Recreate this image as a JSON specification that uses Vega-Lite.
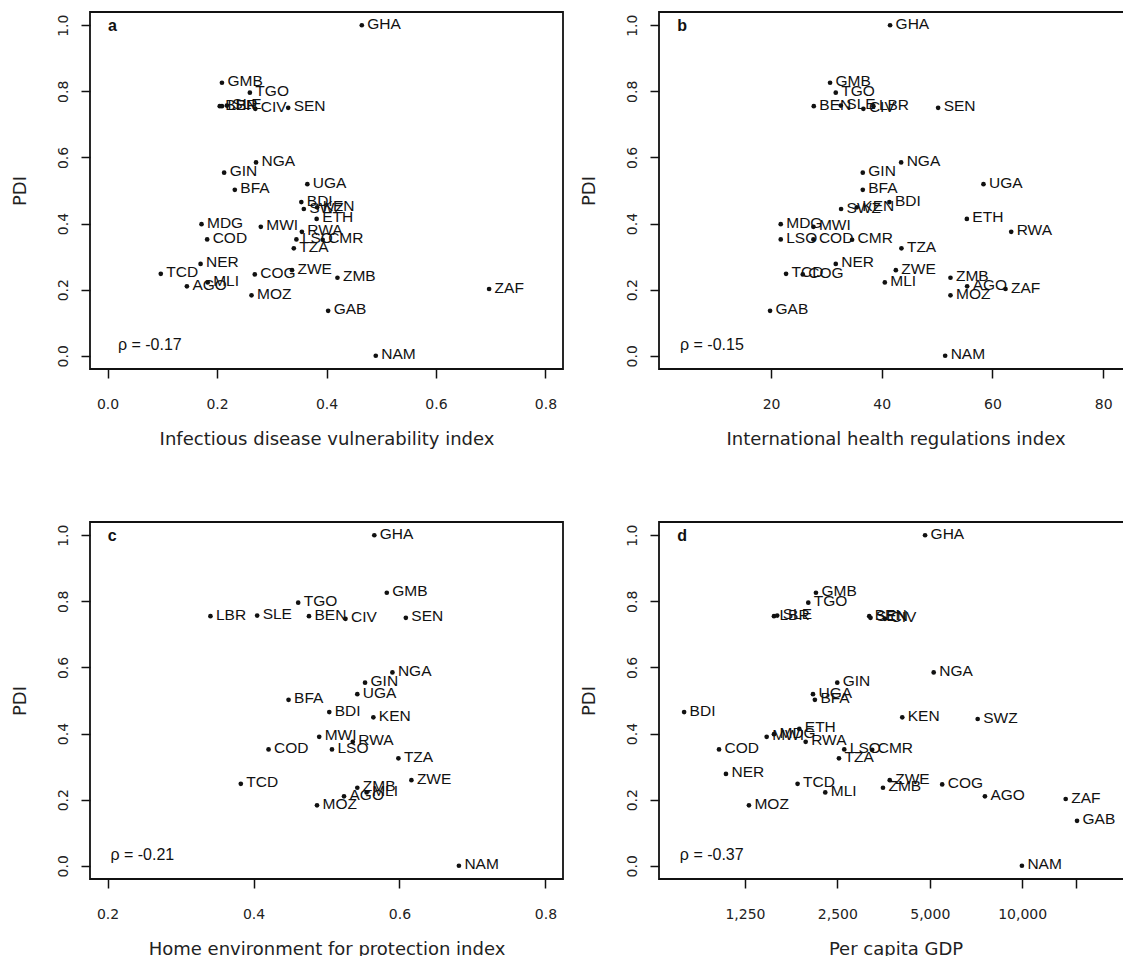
{
  "$schema": "https://vega.github.io/schema/vega-lite/v6.json",
  "background": "white",
  "padding": {"left": 10, "top": 11, "right": 0, "bottom": 0},
  "bounds": "flush",
  "columns": 2,
  "spacing": {"row": 153, "column": 96},
  "datasets": {
    "countries": [
      {"iso": "GHA", "pdi": 1.0, "idvi": 0.4645, "ihr": 41.5, "home": 0.5655, "gdp": 4827},
      {"iso": "GMB", "pdi": 0.826, "idvi": 0.209, "ihr": 30.66, "home": 0.5826, "gdp": 2129},
      {"iso": "TGO", "pdi": 0.796, "idvi": 0.26, "ihr": 31.69, "home": 0.4612, "gdp": 2010},
      {"iso": "BEN", "pdi": 0.755, "idvi": 0.205, "ihr": 27.72, "home": 0.476, "gdp": 3175},
      {"iso": "LBR", "pdi": 0.755, "idvi": 0.209, "ihr": 38.49, "home": 0.341, "gdp": 1554},
      {"iso": "SLE", "pdi": 0.757, "idvi": 0.218, "ihr": 32.6, "home": 0.405, "gdp": 1592},
      {"iso": "CIV", "pdi": 0.747, "idvi": 0.27, "ihr": 36.68, "home": 0.526, "gdp": 3572},
      {"iso": "SEN", "pdi": 0.75, "idvi": 0.33, "ihr": 50.18, "home": 0.6087, "gdp": 3206},
      {"iso": "NGA", "pdi": 0.585, "idvi": 0.2713, "ihr": 43.5, "home": 0.5903, "gdp": 5149},
      {"iso": "GIN", "pdi": 0.554, "idvi": 0.213, "ihr": 36.57, "home": 0.5528, "gdp": 2498},
      {"iso": "UGA", "pdi": 0.519, "idvi": 0.365, "ihr": 58.37, "home": 0.5422, "gdp": 2082},
      {"iso": "BFA", "pdi": 0.502, "idvi": 0.2325, "ihr": 36.57, "home": 0.448, "gdp": 2112},
      {"iso": "BDI", "pdi": 0.465, "idvi": 0.354, "ihr": 41.38, "home": 0.5038, "gdp": 792},
      {"iso": "KEN", "pdi": 0.449, "idvi": 0.383, "ihr": 35.49, "home": 0.5642, "gdp": 4068},
      {"iso": "SWZ", "pdi": 0.444, "idvi": 0.3586, "ihr": 32.65, "home": null, "gdp": 7162},
      {"iso": "ETH", "pdi": 0.414, "idvi": 0.382, "ihr": 55.37, "home": null, "gdp": 1879},
      {"iso": "MDG", "pdi": 0.398, "idvi": 0.1717, "ihr": 21.75, "home": null, "gdp": 1554},
      {"iso": "MWI", "pdi": 0.39, "idvi": 0.28, "ihr": 27.65, "home": 0.49, "gdp": 1471},
      {"iso": "RWA", "pdi": 0.375, "idvi": 0.355, "ihr": 63.38, "home": 0.536, "gdp": 1971},
      {"iso": "COD", "pdi": 0.352, "idvi": 0.182, "ihr": 27.65, "home": 0.4206, "gdp": 1029},
      {"iso": "LSO", "pdi": 0.352, "idvi": 0.345, "ihr": 21.75, "home": 0.5075, "gdp": 2633},
      {"iso": "CMR", "pdi": 0.351, "idvi": 0.393, "ihr": 34.64, "home": null, "gdp": 3247},
      {"iso": "TZA", "pdi": 0.325, "idvi": 0.3403, "ihr": 43.55, "home": 0.5985, "gdp": 2530},
      {"iso": "NER", "pdi": 0.278, "idvi": 0.17, "ihr": 31.69, "home": null, "gdp": 1084},
      {"iso": "ZWE", "pdi": 0.259, "idvi": 0.337, "ihr": 42.54, "home": 0.6163, "gdp": 3703},
      {"iso": "TCD", "pdi": 0.248, "idvi": 0.0973, "ihr": 22.71, "home": 0.3826, "gdp": 1855},
      {"iso": "COG", "pdi": 0.246, "idvi": 0.269, "ihr": 25.73, "home": null, "gdp": 5488},
      {"iso": "ZMB", "pdi": 0.236, "idvi": 0.42, "ihr": 52.41, "home": 0.5422, "gdp": 3520},
      {"iso": "MLI", "pdi": 0.222, "idvi": 0.183, "ihr": 40.55, "home": 0.555, "gdp": 2283},
      {"iso": "AGO", "pdi": 0.21, "idvi": 0.145, "ihr": 55.42, "home": 0.524, "gdp": 7562},
      {"iso": "ZAF", "pdi": 0.202, "idvi": 0.697, "ihr": 62.35, "home": null, "gdp": 13860},
      {"iso": "MOZ", "pdi": 0.183, "idvi": 0.263, "ihr": 52.41, "home": 0.487, "gdp": 1288},
      {"iso": "GAB", "pdi": 0.136, "idvi": 0.403, "ihr": 19.82, "home": null, "gdp": 15090},
      {"iso": "NAM", "pdi": 0.0, "idvi": 0.49, "ihr": 51.45, "home": 0.6814, "gdp": 9980}
    ]
  },
  "concat": [
    {
      "width": 473, "height": 357,
      "encoding": {
        "x": {"field": "idvi", "type": "quantitative", "scale": {"domain": [-0.032, 0.832], "nice": false, "zero": false}, "axis": {"title": "Infectious disease vulnerability index", "values": [0, 0.2, 0.4, 0.6, 0.8], "format": ".1f"}},
        "y": {"field": "pdi", "type": "quantitative", "scale": {"domain": [-0.04, 1.04], "nice": false, "zero": false}, "axis": {"title": "PDI", "values": [0, 0.2, 0.4, 0.6, 0.8, 1.0], "format": ".1f"}}
      },
      "layer": [
        {"data": {"name": "countries"}, "transform": [{"filter": "isValid(datum.idvi)"}], "mark": {"type": "circle", "size": 22, "color": "#111", "opacity": 1}},
        {"data": {"name": "countries"}, "transform": [{"filter": "isValid(datum.idvi)"}], "mark": {"type": "text", "align": "left", "baseline": "middle", "dx": 5.5, "dy": -1.5, "font": "Liberation Sans", "fontSize": 15.5, "color": "#111"}, "encoding": {"text": {"field": "iso"}}},
        {"data": {"values": [{"idvi": 0.019, "pdi": 0.017, "txt": "ρ = -0.17"}]}, "mark": {"type": "text", "align": "left", "baseline": "alphabetic", "font": "Liberation Sans", "fontSize": 16, "color": "#111"}, "encoding": {"text": {"field": "txt"}}},
        {"data": {"values": [{"idvi": 0.001, "pdi": 0.984, "txt": "a"}]}, "mark": {"type": "text", "align": "left", "baseline": "alphabetic", "font": "Liberation Sans", "fontSize": 16, "fontWeight": "bold", "color": "#111"}, "encoding": {"text": {"field": "txt"}}}
      ]
    },
    {
      "width": 473, "height": 357,
      "encoding": {
        "x": {"field": "ihr", "type": "quantitative", "scale": {"domain": [-0.24, 85.2], "nice": false, "zero": false}, "axis": {"title": "International health regulations index", "values": [20, 40, 60, 80], "format": "d"}},
        "y": {"field": "pdi", "type": "quantitative", "scale": {"domain": [-0.04, 1.04], "nice": false, "zero": false}, "axis": {"title": "PDI", "values": [0, 0.2, 0.4, 0.6, 0.8, 1.0], "format": ".1f"}}
      },
      "layer": [
        {"data": {"name": "countries"}, "transform": [{"filter": "isValid(datum.ihr)"}], "mark": {"type": "circle", "size": 22, "color": "#111", "opacity": 1}},
        {"data": {"name": "countries"}, "transform": [{"filter": "isValid(datum.ihr)"}], "mark": {"type": "text", "align": "left", "baseline": "middle", "dx": 5.5, "dy": -1.5, "font": "Liberation Sans", "fontSize": 15.5, "color": "#111"}, "encoding": {"text": {"field": "iso"}}},
        {"data": {"values": [{"ihr": 3.55, "pdi": 0.017, "txt": "ρ = -0.15"}]}, "mark": {"type": "text", "align": "left", "baseline": "alphabetic", "font": "Liberation Sans", "fontSize": 16, "color": "#111"}, "encoding": {"text": {"field": "txt"}}},
        {"data": {"values": [{"ihr": 3.07, "pdi": 0.984, "txt": "b"}]}, "mark": {"type": "text", "align": "left", "baseline": "alphabetic", "font": "Liberation Sans", "fontSize": 16, "fontWeight": "bold", "color": "#111"}, "encoding": {"text": {"field": "txt"}}}
      ]
    },
    {
      "width": 473, "height": 357,
      "encoding": {
        "x": {"field": "home", "type": "quantitative", "scale": {"domain": [0.176, 0.824], "nice": false, "zero": false}, "axis": {"title": "Home environment for protection index", "values": [0.2, 0.4, 0.6, 0.8], "format": ".1f"}},
        "y": {"field": "pdi", "type": "quantitative", "scale": {"domain": [-0.04, 1.04], "nice": false, "zero": false}, "axis": {"title": "PDI", "values": [0, 0.2, 0.4, 0.6, 0.8, 1.0], "format": ".1f"}}
      },
      "layer": [
        {"data": {"name": "countries"}, "transform": [{"filter": "isValid(datum.home)"}], "mark": {"type": "circle", "size": 22, "color": "#111", "opacity": 1}},
        {"data": {"name": "countries"}, "transform": [{"filter": "isValid(datum.home)"}], "mark": {"type": "text", "align": "left", "baseline": "middle", "dx": 5.5, "dy": -1.5, "font": "Liberation Sans", "fontSize": 15.5, "color": "#111"}, "encoding": {"text": {"field": "iso"}}},
        {"data": {"values": [{"home": 0.204, "pdi": 0.017, "txt": "ρ = -0.21"}]}, "mark": {"type": "text", "align": "left", "baseline": "alphabetic", "font": "Liberation Sans", "fontSize": 16, "color": "#111"}, "encoding": {"text": {"field": "txt"}}},
        {"data": {"values": [{"home": 0.2004, "pdi": 0.984, "txt": "c"}]}, "mark": {"type": "text", "align": "left", "baseline": "alphabetic", "font": "Liberation Sans", "fontSize": 16, "fontWeight": "bold", "color": "#111"}, "encoding": {"text": {"field": "txt"}}}
      ]
    },
    {
      "width": 473, "height": 357,
      "encoding": {
        "x": {"field": "gdp", "type": "quantitative", "scale": {"type": "log", "domain": [656, 22790], "nice": false, "zero": false}, "axis": {"title": "Per capita GDP", "values": [1250, 2500, 5000, 10000, 15000], "labelExpr": "datum.value == 15000 ? '' : format(datum.value, ',')"}},
        "y": {"field": "pdi", "type": "quantitative", "scale": {"domain": [-0.04, 1.04], "nice": false, "zero": false}, "axis": {"title": "PDI", "values": [0, 0.2, 0.4, 0.6, 0.8, 1.0], "format": ".1f"}}
      },
      "layer": [
        {"data": {"name": "countries"}, "transform": [{"filter": "isValid(datum.gdp)"}], "mark": {"type": "circle", "size": 22, "color": "#111", "opacity": 1}},
        {"data": {"name": "countries"}, "transform": [{"filter": "isValid(datum.gdp)"}], "mark": {"type": "text", "align": "left", "baseline": "middle", "dx": 5.5, "dy": -1.5, "font": "Liberation Sans", "fontSize": 15.5, "color": "#111"}, "encoding": {"text": {"field": "iso"}}},
        {"data": {"values": [{"gdp": 767, "pdi": 0.017, "txt": "ρ = -0.37"}]}, "mark": {"type": "text", "align": "left", "baseline": "alphabetic", "font": "Liberation Sans", "fontSize": 16, "color": "#111"}, "encoding": {"text": {"field": "txt"}}},
        {"data": {"values": [{"gdp": 752, "pdi": 0.984, "txt": "d"}]}, "mark": {"type": "text", "align": "left", "baseline": "alphabetic", "font": "Liberation Sans", "fontSize": 16, "fontWeight": "bold", "color": "#111"}, "encoding": {"text": {"field": "txt"}}}
      ]
    }
  ],
  "config": {
    "view": {"stroke": "#111", "strokeWidth": 1.8},
    "axis": {"grid": false, "domain": false, "tickSize": 9, "tickColor": "#111", "tickWidth": 1.5, "labelFont": "DejaVu Sans", "labelFontSize": 14, "labelColor": "#222", "titleFont": "DejaVu Sans", "titleFontSize": 18, "titleFontWeight": "normal", "titleColor": "#222", "labelOverlap": false, "labelFlush": false},
    "axisX": {"labelBaseline": "alphabetic", "labelPadding": 30, "titleBaseline": "alphabetic", "titleY": 75},
    "axisY": {"labelAngle": 270, "labelAlign": "center", "labelBaseline": "alphabetic", "labelPadding": 14, "titleAngle": 270, "titleBaseline": "alphabetic", "titleX": -65}
  }
}
